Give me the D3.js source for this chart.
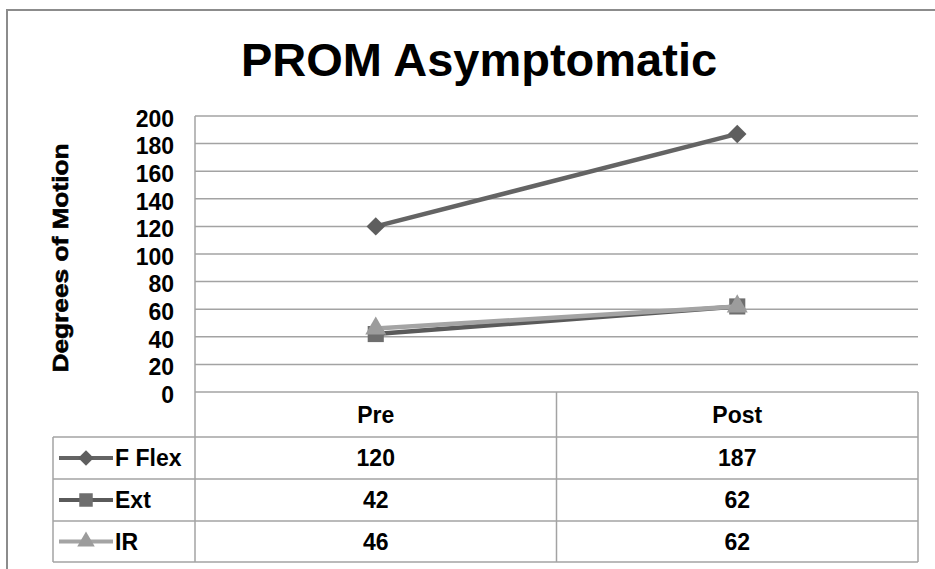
<!DOCTYPE html>
<html>
<head>
<meta charset="utf-8">
<script src="https://cdn.jsdelivr.net/npm/d3@7/dist/d3.min.js"></script>
<style>
  html, body { margin: 0; padding: 0; background: #fff; }
  svg { display: block; font-family: "Liberation Sans", Arial, sans-serif; }
</style>
</head>
<body>
<svg id="chart" width="935" height="569"></svg>
<script>
const titleText = "PROM Asymptomatic";
const yAxisTitle = "Degrees of Motion";
const categories = ["Pre", "Post"];
const seriesNames = ["F Flex", "Ext", "IR"];
const fFlexValues = [120, 187];
const extValues = [42, 62];
const irValues = [46, 62];
const yTicks = [0, 20, 40, 60, 80, 100, 120, 140, 160, 180, 200];

const series = [
  { name: seriesNames[0], values: fFlexValues, line: "#646464", fill: "#5e5e5e", symbol: "diamond" },
  { name: seriesNames[1], values: extValues, line: "#5a5a5a", fill: "#6e6e6e", symbol: "square" },
  { name: seriesNames[2], values: irValues, line: "#a4a4a4", fill: "#9c9c9c", symbol: "triangle" }
];

const svg = d3.select("#chart");
const plotL = 195, plotR = 918, plotT = 116, plotB = 392;
const tableLeft = 53;
const rowBounds = [392, 437, 479, 521, 562];
const gridColor = "#a3a3a3";
const fs = 23;

// outer frame
svg.append("rect").attr("x", 7).attr("y", 10).attr("width", 960).attr("height", 600)
  .attr("fill", "#fff").attr("stroke", "#8c8c8c").attr("stroke-width", 2);

// title
svg.append("text").attr("x", 479).attr("y", 76).attr("text-anchor", "middle")
  .attr("font-size", 47).attr("font-weight", "bold").attr("fill", "#000")
  .text(titleText);

const x = d3.scaleBand().domain(categories).range([plotL, plotR]);
const y = d3.scaleLinear().domain([0, 200]).range([plotB, plotT]);

// gridlines
svg.append("g").selectAll("line").data(yTicks.filter(t => t > 0)).join("line")
  .attr("x1", plotL).attr("x2", plotR)
  .attr("y1", d => y(d)).attr("y2", d => y(d))
  .attr("stroke", gridColor).attr("stroke-width", 1.5);

// y axis labels
const yAxis = d3.axisLeft(y).tickValues(yTicks).tickSize(0).tickPadding(0);
const gy = svg.append("g").attr("transform", `translate(${plotL - 21},0)`).call(yAxis);
gy.select(".domain").remove();
gy.selectAll("text").attr("font-size", fs).attr("font-weight", "bold")
  .attr("font-family", "Liberation Sans, Arial, sans-serif").attr("fill", "#000")
  .attr("dy", "0.45em");

// y axis title
svg.append("text").attr("transform", "translate(68,258) rotate(-90)")
  .attr("text-anchor", "middle").attr("font-size", 22).attr("font-weight", "bold")
  .attr("stroke", "#000").attr("stroke-width", 0.6)
  .attr("textLength", 229).attr("lengthAdjust", "spacingAndGlyphs")
  .text(yAxisTitle);

// data table
const tg = svg.append("g");
tg.append("line").attr("x1", plotL).attr("x2", plotR).attr("y1", rowBounds[0]).attr("y2", rowBounds[0])
  .attr("stroke", gridColor).attr("stroke-width", 1.5);
rowBounds.slice(1).forEach(yy => {
  tg.append("line").attr("x1", tableLeft).attr("x2", plotR).attr("y1", yy).attr("y2", yy)
    .attr("stroke", gridColor).attr("stroke-width", 1.5);
});
tg.append("line").attr("x1", plotL).attr("x2", plotL).attr("y1", plotT).attr("y2", rowBounds[4])
  .attr("stroke", gridColor).attr("stroke-width", 1.5);
tg.append("line").attr("x1", tableLeft).attr("x2", tableLeft).attr("y1", rowBounds[1]).attr("y2", rowBounds[4])
  .attr("stroke", gridColor).attr("stroke-width", 1.5);
categories.forEach(c => {
  const xx = x(c) + x.bandwidth();
  tg.append("line").attr("x1", xx).attr("x2", xx).attr("y1", rowBounds[0]).attr("y2", rowBounds[4])
    .attr("stroke", gridColor).attr("stroke-width", 1.5);
});
tg.selectAll("text.hdr").data(categories).join("text").attr("class", "hdr")
  .attr("x", d => x(d) + x.bandwidth() / 2).attr("y", (rowBounds[0] + rowBounds[1]) / 2 + 8)
  .attr("text-anchor", "middle").attr("font-size", fs).attr("font-weight", "bold").text(d => d);

function symbolPath(kind, sz) {
  if (kind === "triangle") return d3.symbol(d3.symbolTriangle, sz)();
  return d3.symbol(d3.symbolSquare, sz)();
}
function symbolTransform(kind, cx, cy) {
  return kind === "diamond" ? `translate(${cx},${cy}) rotate(45)` : `translate(${cx},${cy})`;
}
const symSize = { diamond: 170, square: 260, triangle: 190 };

series.forEach((s, i) => {
  const cy = (rowBounds[i + 1] + rowBounds[i + 2]) / 2;
  tg.append("line").attr("x1", 59).attr("x2", 113).attr("y1", cy).attr("y2", cy)
    .attr("stroke", s.line).attr("stroke-width", 4);
  tg.append("path").attr("d", symbolPath(s.symbol, symSize[s.symbol] * 0.7))
    .attr("transform", symbolTransform(s.symbol, 86, cy)).attr("fill", s.fill);
  tg.append("text").attr("x", 115).attr("y", cy + 8).attr("font-size", fs).attr("font-weight", "bold")
    .text(s.name);
  s.values.forEach((v, j) => {
    tg.append("text").attr("x", x(categories[j]) + x.bandwidth() / 2).attr("y", cy + 8)
      .attr("text-anchor", "middle").attr("font-size", fs).attr("font-weight", "bold").text(v);
  });
});

// lines and markers
const lineGen = d3.line().x((d, j) => x(categories[j]) + x.bandwidth() / 2).y(d => y(d));
const pg = svg.append("g");
series.forEach(s => {
  pg.append("path").datum(s.values).attr("d", lineGen).attr("fill", "none")
    .attr("stroke", s.line).attr("stroke-width", 4.5);
  pg.selectAll(null).data(s.values).join("path")
    .attr("d", symbolPath(s.symbol, symSize[s.symbol]))
    .attr("transform", (d, j) => symbolTransform(s.symbol, x(categories[j]) + x.bandwidth() / 2, y(d)))
    .attr("fill", s.fill);
});
</script>
</body>
</html>
